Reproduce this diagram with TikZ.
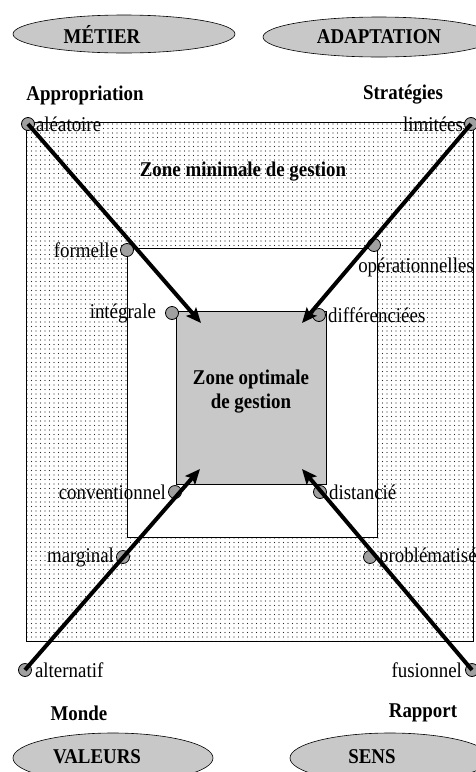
\documentclass[tikz,border=0pt]{standalone}
\usepackage{fontspec}
\setmainfont{Liberation Serif}[FakeStretch=0.9]
\usetikzlibrary{positioning,arrows.meta,shapes.geometric,patterns.meta}
\definecolor{zonegray}{RGB}{200,200,200}
\definecolor{knobgray}{RGB}{160,160,160}

\begin{document}
\begin{tikzpicture}[x=1pt,y=-1pt,
  lbl/.style={font=\fontsize{21}{24}\selectfont,inner sep=1pt},
  head/.style={font=\fontsize{21}{24}\selectfont\bfseries,inner sep=1pt},
  pole/.style={ellipse,draw,semithick,fill=zonegray,minimum width=222pt,minimum height=38pt,inner sep=0pt},
  knob/.style={circle,draw,thick,fill=knobgray,minimum size=13pt,inner sep=0pt},
  push/.style={line width=4pt,-{Stealth[length=15pt,width=13pt,inset=3pt]}}]
  \useasboundingbox (0,0) rectangle (476,772);

  % ── Poles (ellipses) ──
  \node[pole] (metier) at (124,34) {};
  \node[head] (metiertxt) at (102,34) {MÉTIER};
  \node[pole,minimum width=232pt,minimum height=40pt] (adapt) at (379,37) {};
  \node[head] (adapttxt) at (379,37) {ADAPTATION};
  \node[pole,minimum width=200pt,minimum height=50pt] (valeurs) at (113,758) {};
  \node[head] (valeurstxt) at (97,757) {VALEURS};
  \node[pole,minimum width=200pt,minimum height=50pt] (sens) at (390,758) {};
  \node[head] (senstxt) at (372,757) {SENS};

  % ── Axis titles ──
  \node[head] (approp) at (85,95) {Appropriation};
  \node[head] (strat) at (403,95) {Stratégies};
  \node[head] (monde) at (79,713) {Monde};
  \node[head] (rapport) at (423,713) {Rapport};

  % ── Zones ──
  \draw[thick,pattern={Dots[distance=4.5pt,radius=0.7pt]},pattern color=black!85]
       (26,122) rectangle (473,641);
  \draw[thick,fill=white] (127,248) rectangle (377,537);
  \draw[thick,fill=zonegray] (176,311) rectangle (326,484);
  \node[head] (zmin) at (243,172) {Zone minimale de gestion};
  \node[head,align=center] (zopt) at (251,392) {Zone optimale\\de gestion};

  % ── Knobs and their labels ──
  \node[knob] (kaleat) at (28,124) {};
  \node[lbl,right=0pt of kaleat] (aleat) {aléatoire};
  \node[knob] (klimit) at (471,124) {};
  \node[lbl,left=0pt of klimit] (limit) {limitées};
  \node[knob] (kform) at (127,250) {};
  \node[lbl,left=1pt of kform] (form) {formelle};
  \node[knob] (koper) at (374,245) {};
  \node[lbl] (oper) at (416,267) {opérationnelles};
  \node[knob] (kinteg) at (172,313) {};
  \node[lbl,left=8pt of kinteg] (integ) {intégrale};
  \node[knob] (kdiff) at (319,315) {};
  \node[lbl,right=1pt of kdiff] (diff) {différenciées};
  \node[knob] (kconv) at (175,492) {};
  \node[lbl,left=1pt of kconv] (conv) {conventionnel};
  \node[knob] (kdist) at (320,492) {};
  \node[lbl,right=1pt of kdist] (dist) {distancié};
  \node[knob] (kmarg) at (123,557) {};
  \node[lbl,left=1pt of kmarg] (marg) {marginal};
  \node[knob] (kprob) at (370,557) {};
  \node[lbl,right=1pt of kprob] (prob) {problématisé};
  \node[knob] (kalter) at (25,670) {};
  \node[lbl,right=2pt of kalter] (alter) {alternatif};
  \node[knob] (kfusion) at (472,670) {};
  \node[lbl,left=2pt of kfusion] (fusion) {fusionnel};

  % ── Arrows into the optimal zone ──
  \coordinate (tipnw) at (201,323);
  \coordinate (tipne) at (302,323);
  \coordinate (tipsw) at (200,469);
  \coordinate (tipse) at (302,469);
  \draw[push] (kaleat.center) -- (tipnw);
  \draw[push] (klimit.center) -- (tipne);
  \draw[push] (kalter.center) -- (tipsw);
  \draw[push] (kfusion.center) -- (tipse);
\end{tikzpicture}
\end{document}
